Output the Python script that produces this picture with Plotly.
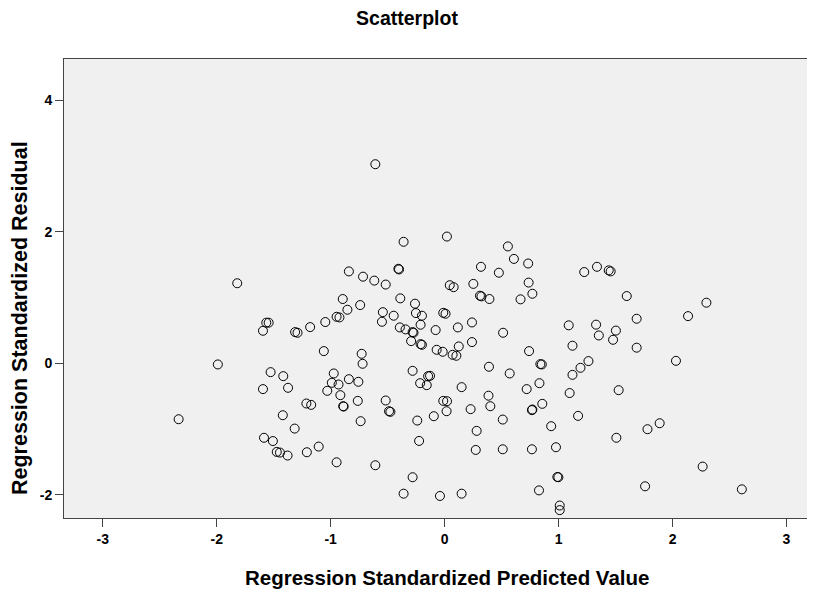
import plotly.graph_objects as go

# Regression standardized predicted values (x) and residuals (y)
pred = [
    -0.608, -0.36, 0.02, 0.555, 0.608, 0.733, 0.319, 0.476, -0.406, -0.400,
    -0.84, -0.716, -0.617, -0.517, -1.82, 0.045, 0.079, 0.252, 0.737, 0.77,
    0.666, 0.31, 0.323, 0.393, 1.225, 1.337, 1.44, 1.457, 1.598, 2.297,
    2.136, 1.685, 1.089, 1.329, 1.503, 1.353, 1.478, 1.685, 1.122, 0.741,
    0.513, 2.03, 1.262, 1.192, 0.84, 0.853, 1.122, 1.527, 0.571, 0.389,
    0.832, 0.72, 1.097, 0.857, 0.766, 0.770, 0.385, 0.401, 0.149, 0.228,
    0.51, 1.171, 0.935, 1.78, 1.887, 1.507, 0.281, 0.273, 0.51, 0.766,
    0.977, 0.989, 0.998, 0.828, 1.759, 2.264, 2.608, 1.01, 1.01, 0.149,
    -0.041, -0.36, -0.281, -0.608, -0.224, -0.24, -0.095, 0.017, -0.012, 0.021,
    -0.281, -0.145, -0.128, -0.215, -0.157, -0.517, -0.488, -0.476, -0.737, -0.762,
    -0.757, -0.84, -0.72, -0.728, -1.06, -0.973, -0.99, -0.931, -1.03, -0.915,
    -0.89, -0.886, -1.213, -1.171, -1.374, -1.416, -1.527, -1.594, -1.42, -1.316,
    -1.585, -1.507, -1.473, -1.445, -1.378, -1.209, -1.105, -0.948, -1.99, -2.334,
    -1.594, -1.565, -1.544, -1.312, -1.291, -1.18, -1.047, -0.948, -0.923, -0.853,
    -0.894, -0.741, -0.542, -0.55, -0.447, -0.389, -0.26, -0.252, -0.199, -0.012,
    0.008, -0.211, -0.393, -0.343, -0.281, -0.273, -0.079, 0.116, 0.24, -0.294,
    -0.211, -0.199, -0.07, -0.017, 0.07, 0.103, 0.124, 0.24,
]
resid = [
    3.03, 1.85, 1.93, 1.78, 1.59, 1.52, 1.47, 1.38, 1.44, 1.43,
    1.40, 1.32, 1.26, 1.20, 1.22, 1.19, 1.16, 1.21, 1.23, 1.06,
    0.975, 1.03, 1.02, 0.98, 1.39, 1.47, 1.416, 1.40, 1.025, 0.924,
    0.72, 0.68, 0.58, 0.59, 0.50, 0.426, 0.36, 0.24, 0.27, 0.188,
    0.467, 0.04, 0.036, -0.066, -0.01, -0.015, -0.173, -0.406, -0.152, -0.05,
    -0.30, -0.39, -0.45, -0.614, -0.71, -0.70, -0.49, -0.65, -0.36, -0.695,
    -0.853, -0.797, -0.954, -1.0, -0.909, -1.13, -1.025, -1.315, -1.305, -1.305,
    -1.274, -1.726, -1.73, -1.93, -1.868, -1.568, -1.914, -2.16, -2.23, -1.98,
    -2.015, -1.98, -1.73, -1.548, -1.178, -0.868, -0.802, -0.726, -0.569, -0.574,
    -0.112, -0.193, -0.188, -0.30, -0.33, -0.563, -0.726, -0.736, -0.878, -0.569,
    -0.279, -0.239, -0.005, 0.147, 0.188, -0.152, -0.294, -0.32, -0.416, -0.482,
    -0.65, -0.655, -0.609, -0.63, -0.37, -0.193, -0.132, -0.39, -0.787, -0.99,
    -1.13, -1.18, -1.345, -1.355, -1.40, -1.35, -1.264, -1.503, -0.015, -0.848,
    0.497, 0.62, 0.62, 0.477, 0.467, 0.553, 0.63, 0.71, 0.70, 0.817,
    0.98, 0.888, 0.78, 0.634, 0.726, 0.99, 0.909, 0.766, 0.726, 0.77,
    0.756, 0.589, 0.548, 0.518, 0.477, 0.467, 0.508, 0.548, 0.624, 0.34,
    0.294, 0.284, 0.208, 0.178, 0.132, 0.117, 0.259, 0.325,
]

x_ticks = [-3, -2, -1, 0, 1, 2, 3]
y_ticks = [-2, 0, 2, 4]

FONT = "Liberation Sans, Arial, sans-serif"

# The page body has an 8px margin, so the figure is 8px smaller than the window.
W, H = 807, 583
ML, MT, MB, MR = 56, 51, 73, 0
PW, PH = W - ML - MR, H - MT - MB

fig = go.Figure(
    go.Scatter(
        x=pred, y=resid, mode="markers",
        marker=dict(symbol="circle-open", size=9, color="black",
                    line=dict(width=1, color="black")),
        hoverinfo="x+y",
    )
)

fig.update_layout(
    width=W, height=H,
    paper_bgcolor="white", plot_bgcolor="#F0F0F0",
    margin=dict(l=ML, r=MR, t=MT, b=MB, autoexpand=False),
    showlegend=False,
    font=dict(family=FONT, color="black"),
    title=dict(text="<b>Scatterplot</b>", x=399 / W, xanchor="center",
               y=1 - 10 / H, yanchor="middle",
               font=dict(family=FONT, size=19.5, color="black")),
    xaxis=dict(
        range=[-3.34, 3.25], tickvals=x_ticks, ticktext=[str(v) for v in x_ticks],
        showgrid=False, zeroline=False, automargin=False,
        showline=True, linecolor="#444444", linewidth=1, mirror=True,
        ticks="outside", ticklen=8, tickcolor="#444444",
        tickfont=dict(family=FONT, size=14, color="black", weight="bold"),
    ),
    yaxis=dict(
        range=[-2.35, 4.63], tickvals=y_ticks, ticktext=[str(v) for v in y_ticks],
        showgrid=False, zeroline=False, automargin=False,
        showline=True, linecolor="#444444", linewidth=1, mirror=False,
        ticks="outside", ticklen=8, tickcolor="#444444",
        tickfont=dict(family=FONT, size=14, color="black", weight="bold"),
    ),
    annotations=[
        dict(text="<b>Regression Standardized Predicted Value</b>",
             xref="paper", yref="paper",
             x=(439.5 - ML) / PW, y=(H - MB - 569) / PH,
             xanchor="center", yanchor="middle", showarrow=False,
             font=dict(family=FONT, size=20.5, color="black")),
        dict(text="<b>Regression Standardized Residual</b>",
             xref="paper", yref="paper",
             x=(12 - ML) / PW, y=(H - MB - 310) / PH,
             xanchor="center", yanchor="middle", showarrow=False, textangle=-90,
             font=dict(family=FONT, size=21.5, color="black")),
    ],
)

fig.write_html("out.html")
